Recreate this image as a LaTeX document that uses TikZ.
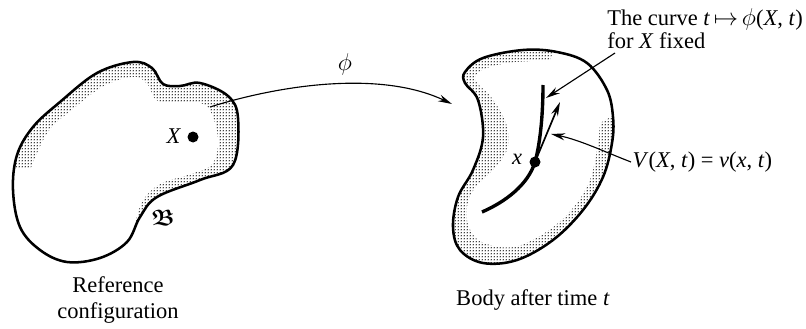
\documentclass[tikz,border=0pt]{standalone}
\usepackage{amsfonts,amssymb,amsmath}
\usepackage{fontspec}
\setmainfont{Liberation Serif}
\usetikzlibrary{patterns.meta,arrows.meta}

\newcommand{\iv}[1]{\textit{#1}}

\tikzdeclarepattern{name=stipple, type=uncolored,
  bounding box={(0,0) and (2.2pt,2.2pt)}, tile size={(2.2pt,2.2pt)},
  code={\fill (1.1pt,1.1pt) circle (0.6pt);}}

\begin{document}
\begin{tikzpicture}[x=0.025cm,y=-0.025cm,font=\fontsize{16}{18}\selectfont,
    outline/.style={line width=1.8pt},
    band/.style={pattern=stipple, pattern color=black},
    pointer/.style={line width=0.8pt,-{Stealth[length=10pt,width=5pt]}}]
    \useasboundingbox (0,0) rectangle (806,328);
    % reference configuration
    \path[save path=\refpath] plot[smooth cycle, tension=0.6] coordinates {
      (133,62) (152,68) (163,84) (180,86) (200,83) (228,96) (238,118)
      (233,165) (200,180) (157,197) (140,217) (127,242) (100,258)
      (67,262) (40,250) (20,227) (13,190) (17,155) (33,127) (60,102) (97,73)};
    \begin{scope}
      \clip[use path=\refpath];
      \fill[band] (0,40) rectangle (260,280);
      \fill[white] plot[smooth, tension=0.6] coordinates {
        (31,168) (48,132) (73,109) (104,86) (134,77) (148,85) (156,100)
        (175,103) (203,104) (214,120) (218,145) (211,165) (187,175)
        (160,184) (143,200) (136,220) (132,240)}
        -- (130,320) -- (-20,320) -- (-20,168) -- cycle;
    \end{scope}
    \draw[outline, use path=\refpath];
    \coordinate (X) at (193,137);
    \fill (X) circle (5.5);
    \node[anchor=east] (Xlab) at (186,136) {\iv{X}};
    \node (calB) at (163,218) {$\boldsymbol{\mathfrak{B}}$};
    \node[align=center, font=\fontsize{16}{18.5}\selectfont] (reflab) at (118,300)
      {Reference\\configuration};
    % deformed body
    \path[save path=\bodypath] plot[smooth cycle, tension=0.6] coordinates {
      (465,72) (483,58) (523,50) (557,52) (587,63) (607,90) (613,117)
      (612,143) (603,177) (583,210) (553,240) (517,260) (483,263)
      (460,250) (453,227) (458,197) (473,170) (483,137) (478,100) (465,83)};
    \begin{scope}
      \clip[use path=\bodypath];
      \fill[band] (440,40) rectangle (630,280);
      \fill[white] plot[smooth, tension=0.6] coordinates {
        (550,61) (517,62) (487,68) (475,79) (492,98) (506,123) (508,147)
        (495,168) (475,188) (467,207) (469,227) (482,242) (513,247)
        (546,232) (572,209) (589,182) (597,150) (600,123)}
        -- (640,100) -- (640,30) -- (560,30) -- cycle;
    \end{scope}
    \draw[outline, use path=\bodypath];
    \coordinate (x) at (535,162);
    \coordinate (curvetop) at (543,85);
    \draw[line width=2.4pt] (482,212) .. controls (505,202) and (528,185) .. (x)
      .. controls (541,140) and (543,110) .. (curvetop);
    \fill (x) circle (5.5);
    \node[anchor=east] (xlab) at (527,159) {\iv{x}};
    \coordinate (vtip) at (560,102);
    \draw[line width=1.2pt,-{Stealth[length=10pt,width=5pt]}] (x) -- (vtip);
    \node (bodylab) at (533,300) {Body after time \iv{t}};
    % the map
    \coordinate (phistart) at (210,107);
    \coordinate (phiend) at (452,104);
    \draw[pointer] (phistart) .. controls (280,85) and (380,70) .. (phiend);
    \node (philab) at (345,64) {$\phi$};
    % labels on the right
    \node[anchor=north west, align=left, inner sep=0pt,
      font=\fontsize{16}{16.5}\selectfont] (curvelab) at (607,8)
      {The curve \iv{t}\,$\mapsto$\,$\phi$(\iv{X}, \iv{t})\\for \iv{X} fixed};
    \coordinate (curvetip) at (546,98);
    \draw[pointer] (615,53) -- (curvetip);
    \node[anchor=west, inner sep=1pt] (vlab) at (631,162)
      {\iv{V}(\iv{X}, \iv{t}) = \iv{v}(\iv{x}, \iv{t})};
    \coordinate (vpoint) at (551,134);
    \draw[pointer] (vlab.west) .. controls (605,152) and (580,140) .. (vpoint);
\end{tikzpicture}
\end{document}
